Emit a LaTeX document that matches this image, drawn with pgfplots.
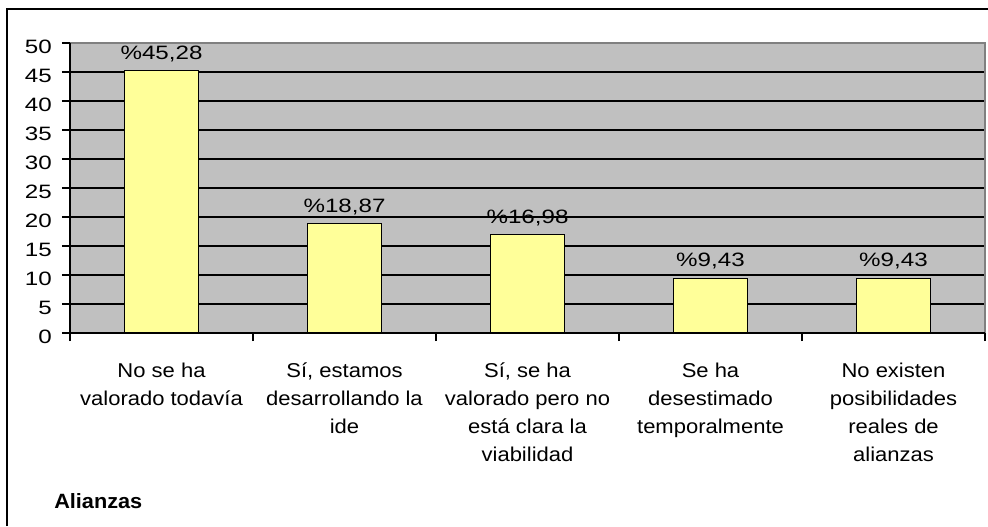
\documentclass[border=0pt]{standalone}
\usepackage{fontspec}
\setmainfont{Liberation Sans}[FakeStretch=1.1]
\newfontfamily\alfont{Liberation Sans}[FakeStretch=1.05]
\newfontfamily\numfont{Liberation Sans}[FakeStretch=1.25]
\usepackage{pgfplots}
\pgfplotsset{compat=1.18}
\definecolor{plotgray}{RGB}{192,192,192}
\definecolor{baryellow}{RGB}{255,255,153}
\definecolor{framegray}{RGB}{128,128,128}
\begin{document}
\fontsize{15pt}{21pt}\selectfont
\begin{tikzpicture}[font=\fontsize{15pt}{21pt}\selectfont]
\useasboundingbox (0,0) rectangle (741pt,-394.5pt);
\draw[line width=1.5pt] (5.25pt,-394.5pt) -- (5.25pt,-7pt) -- (741pt,-7pt);
\begin{axis}[
  at={(52.5pt,-249.75pt)}, anchor=south west,
  scale only axis, width=686.25pt, height=217.5pt,
  xmin=-0.5, xmax=4.5, ymin=0, ymax=50,
  ytick={0,5,...,50},
  xtick={-0.5,0.5,...,4.5}, xticklabels={},
  extra x ticks={0,1,2,3,4},
  extra x tick labels={{No se ha\\valorado todavía},{Sí, estamos\\desarrollando la\\ide},{Sí, se ha\\valorado pero no\\está clara la\\viabilidad},{Se ha\\desestimado\\temporalmente},{No existen\\posibilidades\\reales de\\alianzas}},
  extra x tick style={major tick length=0pt, tick label style={align=center, anchor=north, yshift=-17pt, font=\fontsize{15pt}{21pt}\selectfont}},
  tick align=outside, major tick length=6pt, tick pos=left,
  tick style={black, line width=1pt},
  yticklabel style={xshift=-2.5pt, yshift=-3pt, font=\numfont\fontsize{14.5pt}{17pt}\selectfont},
  /pgf/number format/assume math mode=true,
  axis background/.style={fill=plotgray},
  ymajorgrids, grid style={black, line width=1.1pt},
  axis line style={draw=none},
  clip=false,
]
\addplot[ybar, bar width=55.5pt, fill=baryellow, draw=black, line width=1pt,
  nodes near coords, point meta=explicit symbolic,
  every node near coord/.append style={anchor=base, yshift=8.5pt, inner sep=0pt, black, font=\numfont\fontsize{14.5pt}{17pt}\selectfont}]
  coordinates {(0,45.28) [\%45,28] (1,18.87) [\%18,87] (2,16.98) [\%16,98] (3,9.43) [\%9,43] (4,9.43) [\%9,43]};
\draw[framegray, line width=1pt] (rel axis cs:0,1) -- (rel axis cs:1,1) -- (rel axis cs:1,0);
\draw[black, line width=1.2pt] (rel axis cs:0,1) -- (rel axis cs:0,0) -- (rel axis cs:1,0);
\end{axis}
\node[anchor=base west, inner sep=0pt, font=\alfont\bfseries\fontsize{15.5pt}{18pt}\selectfont] at (40.5pt,-381pt) {Alianzas};
\end{tikzpicture}
\end{document}
